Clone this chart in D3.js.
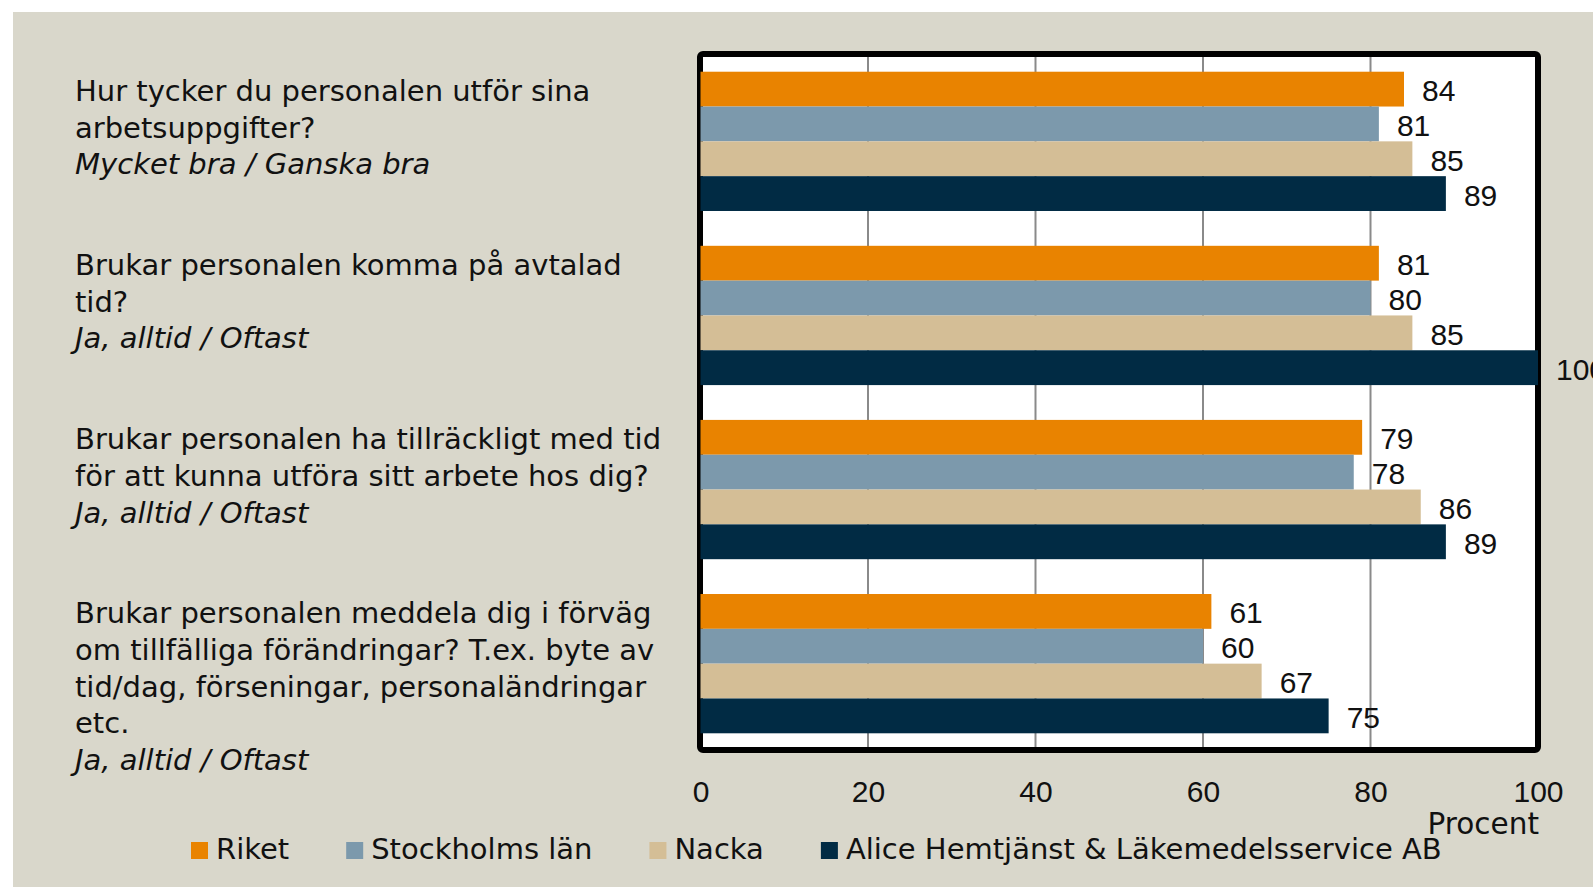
<!DOCTYPE html>
<html>
<head>
<meta charset="utf-8">
<script src="https://cdn.jsdelivr.net/npm/d3@7"></script>
<style>
  html, body { margin: 0; padding: 0; background: #ffffff; overflow: hidden; }
  svg { display: block; }
  .q { font-family: "DejaVu Sans", sans-serif; font-size: 29px; fill: #111; }
  .q .sub { font-style: italic; }
  .num { font-family: "Liberation Sans", Arial, sans-serif; font-size: 30px; fill: #111; }
  .legend text { font-family: "DejaVu Sans", sans-serif; font-size: 29px; fill: #111; }
</style>
</head>
<body>
<div id="chart"></div>
<script>
// questions (one entry per bar group), text lines as in the original
const questionLines = [
    ["Hur tycker du personalen utför sina", "arbetsuppgifter?"],
    ["Brukar personalen komma på avtalad", "tid?"],
    ["Brukar personalen ha tillräckligt med tid", "för att kunna utföra sitt arbete hos dig?"],
    ["Brukar personalen meddela dig i förväg", "om tillfälliga förändringar? T.ex. byte av", "tid/dag, förseningar, personaländringar", "etc."]
];
const answerLabels = ["Mycket bra / Ganska bra", "Ja, alltid / Oftast", "Ja, alltid / Oftast", "Ja, alltid / Oftast"];

const seriesNames = ["Riket", "Stockholms län", "Nacka", "Alice Hemtjänst & Läkemedelsservice AB"];
const seriesColors = ["#e98300", "#7c99ac", "#d4be96", "#012b44"];

const riket     = [84, 81, 79, 61];
const stockholm = [81, 80, 78, 60];
const nacka     = [85, 85, 86, 67];
const alice     = [89, 100, 89, 75];

const xTicks = [0, 20, 40, 60, 80, 100];
const xTitle = "Procent";

const width = 1593, height = 887;

const svg = d3.select("#chart").append("svg")
    .attr("width", width)
    .attr("height", height);

// beige panel
svg.append("rect")
    .attr("x", 13).attr("y", 12)
    .attr("width", width - 13).attr("height", height - 12)
    .attr("fill", "#d9d7cb");

const values = [riket, stockholm, nacka, alice];
const groups = d3.range(questionLines.length);

const x = d3.scaleLinear().domain([0, 100]).range([700.5, 1538]);

const y0 = d3.scaleBand()
    .domain(groups)
    .range([54.3, 750.7])
    .paddingInner(0.2)
    .paddingOuter(0.1);

const y1 = d3.scaleBand()
    .domain(d3.range(seriesNames.length))
    .range([0, y0.bandwidth()]);

// plot area with thick black frame
svg.append("rect")
    .attr("x", 700).attr("y", 54)
    .attr("width", 838).attr("height", 696)
    .attr("rx", 3)
    .attr("fill", "#ffffff")
    .attr("stroke", "#000")
    .attr("stroke-width", 6);

// vertical grid lines
svg.append("g").selectAll("line")
    .data(xTicks.filter(t => t > 0 && t < 100))
    .join("line")
    .attr("x1", d => x(d)).attr("x2", d => x(d))
    .attr("y1", 57).attr("y2", 747)
    .attr("stroke", "#8a8a8a")
    .attr("stroke-width", 2);

// bars
const g = svg.append("g");
groups.forEach(qi => {
    const row = g.append("g").attr("transform", `translate(0,${y0(qi)})`);
    values.forEach((vals, si) => {
        row.append("rect")
            .attr("x", x(0))
            .attr("y", y1(si))
            .attr("width", x(vals[qi]) - x(0))
            .attr("height", y1.bandwidth())
            .attr("fill", seriesColors[si]);
        row.append("text")
            .attr("class", "num")
            .attr("x", x(vals[qi]) + 18)
            .attr("y", y1(si) + y1.bandwidth() / 2 + 12)
            .text(vals[qi]);
    });
});

// question labels on the left
const lineH = 36.6;
groups.forEach(qi => {
    const t = svg.append("text")
        .attr("class", "q")
        .attr("x", 75)
        .attr("y", y0(qi) + y1.bandwidth() / 2 + 12);
    const lines = questionLines[qi];
    lines.forEach((ln, i) => {
        t.append("tspan").attr("x", 75).attr("dy", i === 0 ? 0 : lineH).text(ln);
    });
    t.append("tspan").attr("class", "sub").attr("x", 75).attr("dy", lineH).text(answerLabels[qi]);
});

// x axis tick labels
const axis = svg.append("g")
    .attr("transform", "translate(0,770)")
    .call(d3.axisBottom(x).tickValues(xTicks).tickSize(0).tickPadding(0));
axis.select(".domain").remove();
axis.selectAll("text")
    .attr("class", "num")
    .attr("dy", null)
    .attr("y", 31.5)
    .style("font-family", "'Liberation Sans', Arial, sans-serif")
    .style("font-size", "30px")
    .attr("fill", "#111");

svg.append("text")
    .attr("x", 1539).attr("y", 834)
    .attr("text-anchor", "end")
    .style("font-family", "'DejaVu Sans', sans-serif")
    .style("font-size", "29.5px")
    .attr("fill", "#111")
    .text(xTitle);

// legend
const legend = svg.append("g").attr("class", "legend");
let lx = 191;
seriesNames.forEach((name, i) => {
    const item = legend.append("g").attr("transform", `translate(${lx},0)`);
    item.append("rect")
        .attr("x", 0).attr("y", 842)
        .attr("width", 17).attr("height", 17)
        .attr("fill", seriesColors[i]);
    const txt = item.append("text")
        .attr("x", 25).attr("y", 859)
        .text(name);
    lx += 25 + txt.node().getComputedTextLength() + 57;
});
</script>
</body>
</html>
